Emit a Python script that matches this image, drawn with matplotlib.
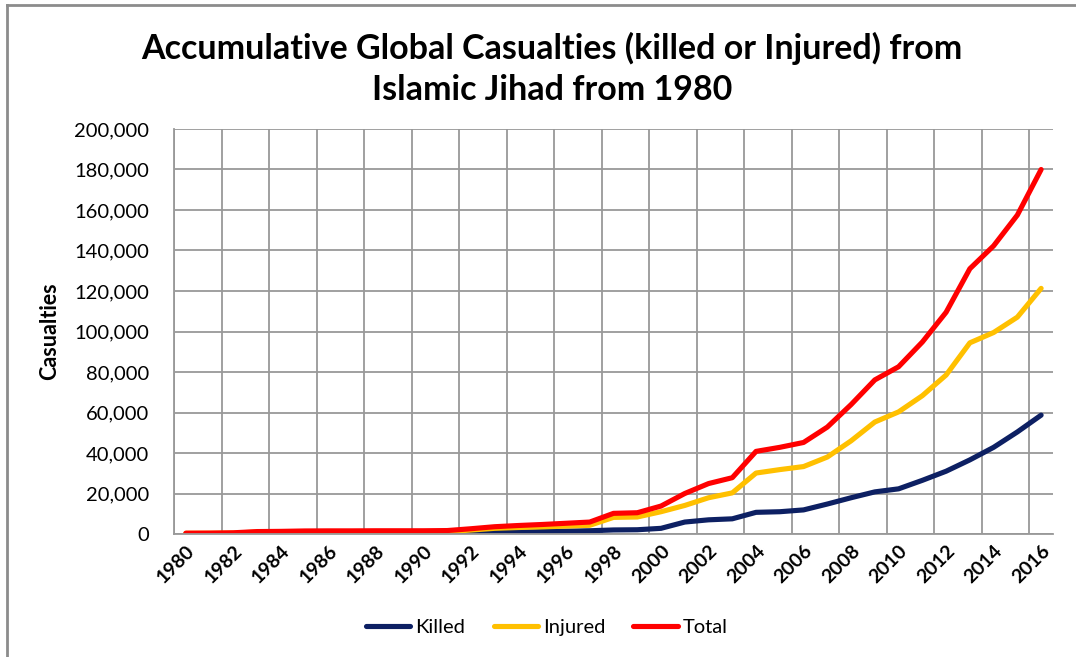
import matplotlib.pyplot as plt
from matplotlib.lines import Line2D
from matplotlib.ticker import FuncFormatter, MultipleLocator

years = list(range(1980, 2017))

killed = [50, 80, 150, 250, 300, 350, 400, 420, 450, 480,
          500, 550, 650, 800, 1000, 1200, 1400, 1600, 2000, 2100,
          2800, 5900, 7000, 7500, 10700, 11000, 11900, 14800, 17900, 20800,
          22300, 26500, 31000, 36600, 42800, 50400, 58700]

injured = [350, 370, 450, 950, 1000, 1150, 1150, 1130, 1150, 1120,
           1100, 1150, 1950, 2800, 3200, 3500, 3900, 4300, 8200, 8400,
           11000, 14100, 17900, 20300, 30100, 31800, 33300, 38000, 46000, 55300,
           60300, 68300, 78500, 94400, 99500, 107100, 121300]

total = [400, 450, 600, 1200, 1300, 1500, 1550, 1550, 1600, 1600,
         1600, 1700, 2600, 3600, 4200, 4700, 5300, 5900, 10200, 10500,
         13800, 20000, 24900, 27800, 40800, 42800, 45200, 52800, 63900, 76100,
         82600, 94800, 109500, 131000, 142300, 157500, 180000]

plt.rcParams['font.family'] = ['Lato', 'DejaVu Sans']

fig = plt.figure(figsize=(10.76, 6.57), dpi=100)
ax = fig.add_axes([174 / 1076, 1 - 534 / 657, 879 / 1076, 405 / 657])

# outer chart border (only top and left visible)
fig.add_artist(Line2D([7 / 1076, 7 / 1076], [0, 1 - 5 / 657],
                      transform=fig.transFigure, color="#8c8c8c", lw=2))
fig.add_artist(Line2D([7 / 1076, 1], [1 - 5 / 657, 1 - 5 / 657],
                      transform=fig.transFigure, color="#8c8c8c", lw=2))

ax.plot(years, killed, color="#0d2063", lw=3.7, label="Killed",
        solid_capstyle="round", solid_joinstyle="round")
ax.plot(years, injured, color="#ffc000", lw=3.7, label="Injured",
        solid_capstyle="round", solid_joinstyle="round")
ax.plot(years, total, color="#ff0000", lw=3.7, label="Total",
        solid_capstyle="round", solid_joinstyle="round")

ax.set_xlim(1979.5, 2016.5)
ax.set_ylim(0, 200000)
ax.yaxis.set_major_locator(MultipleLocator(20000))
ax.yaxis.set_major_formatter(FuncFormatter(lambda v, p: f"{int(v):,}"))

ax.set_xticks(years[::2])
ax.set_xticklabels([str(y) for y in years[::2]], rotation=45, ha="right",
                   rotation_mode="anchor", fontweight="bold", fontsize=14)
ax.set_xticks([y + 0.5 for y in range(1979, 2016, 2)], minor=True)
ax.tick_params(axis="x", which="both", length=0, pad=6)
ax.tick_params(axis="y", length=0, pad=18, labelsize=14.5)

ax.grid(True, axis="y", color="#999999", lw=1.3)
ax.grid(True, axis="x", which="minor", color="#999999", lw=1.3)
ax.set_axisbelow(True)

for side in ["top", "right"]:
    ax.spines[side].set_visible(False)
ax.spines["left"].set_color("#999999")
ax.spines["bottom"].set_color("#999999")
ax.spines["left"].set_linewidth(1.3)
ax.spines["bottom"].set_linewidth(1.3)

ax.set_ylabel("Casualties", fontsize=15.5, fontweight="bold", labelpad=10)

fig.text(552 / 1076, 1 - 69 / 657,
         "Accumulative Global Casualties (killed or Injured) from\nIslamic Jihad from 1980",
         ha="center", va="center", fontsize=24.5, fontweight="bold",
         linespacing=1.35)

fig.legend(loc="center", bbox_to_anchor=(547 / 1076, 1 - 627 / 657), ncol=3,
           frameon=False, fontsize=14.5, handlelength=2.2, handletextpad=0.25,
           columnspacing=1.4)

fig.savefig("out.png", dpi=100)
